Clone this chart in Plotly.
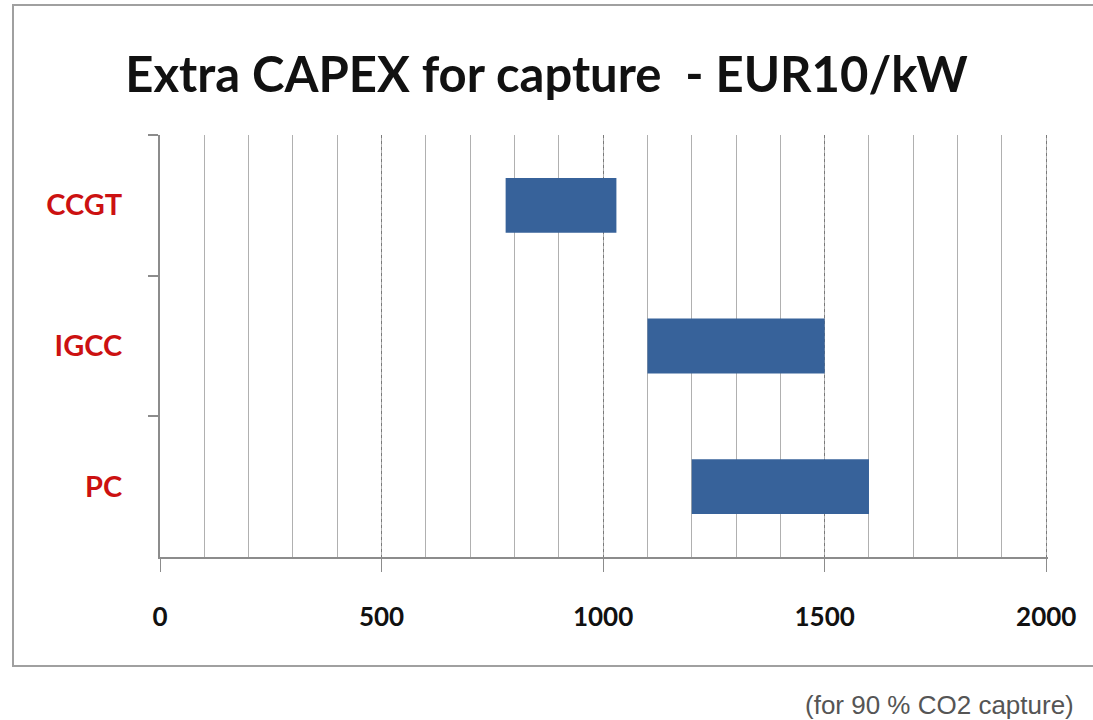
import plotly.graph_objects as go

categories = ["CCGT", "IGCC", "PC"]
range_start = [780, 1100, 1200]
range_end = [1030, 1500, 1600]
x_tick_values = [0, 500, 1000, 1500, 2000]
x_tick_labels = ["0", "500", "1000", "1500", "2000"]

title_text = "Extra CAPEX for capture  - EUR10/kW"
note_text = "(for 90 % CO2 capture)"

widths = [e - s for s, e in zip(range_start, range_end)]

fig = go.Figure()
fig.add_trace(go.Bar(
    y=categories,
    x=widths,
    base=range_start,
    orientation="h",
    width=0.39,
    marker=dict(color="#37629a", line=dict(width=0)),
    hoverinfo="skip",
))

L, R, T, B = 160, 45, 135, 163
W, H = 1093, 720
pw = W - L - R
ph = H - T - B

def px_x(p):
    return (p - L) / pw

def px_y(p):
    return (H - B - p) / ph

fig.update_layout(
    width=W, height=H,
    margin=dict(l=L, r=R, t=T, b=B),
    paper_bgcolor="white",
    plot_bgcolor="white",
    showlegend=False,
    title=dict(
        text=title_text,
        x=0.5, xanchor="center",
        y=1 - 75 / H, yanchor="middle", yref="container",
        font=dict(family="Lato", size=49, color="#111111", weight="bold"),
    ),
    xaxis=dict(
        range=[0, 2004],
        tickvals=x_tick_values,
        ticktext=x_tick_labels,
        showgrid=True,
        gridcolor="#7a7a7a",
        griddash="dot",
        gridwidth=1,
        minor=dict(dtick=100, showgrid=True, gridcolor="#b0b0b0", gridwidth=1,
                   griddash="solid", ticks=""),
        showline=True,
        linecolor="#8c8c8c",
        linewidth=2,
        ticks="outside",
        ticklen=13,
        tickcolor="#8c8c8c",
        tickwidth=1,
        ticklabelstandoff=23,
        tickfont=dict(family="Lato", size=26, color="#111111", weight="bold"),
        zeroline=False,
        fixedrange=True,
    ),
    yaxis=dict(
        type="category",
        categoryorder="array",
        categoryarray=categories,
        autorange=False,
        range=[2.5, -0.5],
        tickson="boundaries",
        showgrid=False,
        showline=True,
        linecolor="#8c8c8c",
        linewidth=2,
        ticks="outside",
        ticklen=10,
        tickcolor="#8c8c8c",
        tickwidth=2,
        ticklabelstandoff=30,
        tickfont=dict(family="Lato", size=29, color="#cc1111", weight="bold"),
        zeroline=False,
        fixedrange=True,
    ),
    shapes=[
        dict(type="rect", xref="paper", yref="paper",
             x0=px_x(13), x1=px_x(1110), y0=px_y(666), y1=px_y(5),
             line=dict(color="#a0a0a0", width=2), fillcolor="rgba(0,0,0,0)",
             layer="below"),
    ],
    annotations=[
        dict(text=note_text, xref="paper", yref="paper",
             x=px_x(1076), y=px_y(705), xanchor="right", yanchor="middle",
             showarrow=False,
             font=dict(family="Liberation Sans", size=26, color="#555555")),
    ],
)

fig.write_html("out.html", config={"displayModeBar": False},
               post_script="document.body.style.margin='0';")
